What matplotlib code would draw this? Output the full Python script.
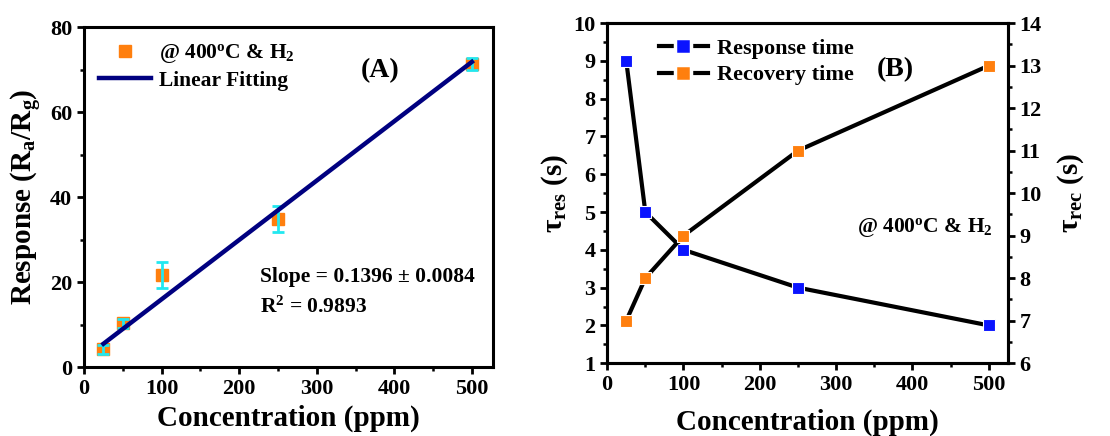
import numpy as np
import matplotlib
matplotlib.use("Agg")
import matplotlib.pyplot as plt
from matplotlib.ticker import MultipleLocator

# Dados - painel A (resposta vs concentracao)
conc = [25, 50, 100, 250, 500]
resposta = [4.2, 10.3, 21.7, 34.8, 71.3]
erro = [1.0, 1.0, 3.0, 3.0, 1.5]
slope = 0.1396
intercept = 2.0

# Dados - painel B (tempos)
t_res = [9, 5, 4, 3, 2]
t_rec = [7, 8, 9, 11, 13]

plt.rcParams["font.family"] = ["Liberation Serif", "DejaVu Serif"]
plt.rcParams["font.weight"] = "bold"
plt.rcParams["mathtext.fontset"] = "custom"
plt.rcParams["mathtext.rm"] = "Liberation Serif:bold"
plt.rcParams["mathtext.it"] = "Liberation Serif:bold"
plt.rcParams["mathtext.bf"] = "Liberation Serif:bold"
plt.rcParams["mathtext.default"] = "rm"

laranja = "#ff7f0e"
azul = "#0a14ff"
ciano = "#22e8f0"

fig = plt.figure(figsize=(11.1, 4.36), dpi=100)
axA = fig.add_axes([0.0757, 0.158, 0.3683, 0.780])
axB = fig.add_axes([0.547, 0.167, 0.361, 0.780])


def estilo(ax):
    for s in ax.spines.values():
        s.set_linewidth(2.2)
    ax.tick_params(which="major", direction="out", length=5, width=2, labelsize=16)
    ax.tick_params(which="minor", direction="out", length=3, width=1.8)
    for lab in ax.get_xticklabels() + ax.get_yticklabels():
        lab.set_fontweight("bold")


# Painel A
xs = np.array([conc[0], conc[-1]])
axA.plot(conc, resposta, "s", color=laranja, markersize=9, linestyle="none",
         label="@ 400$^{o}$C & H$_2$", zorder=2)
axA.errorbar(conc, resposta, yerr=erro, fmt="none", ecolor=ciano, elinewidth=2,
             capsize=4, capthick=2, zorder=3)
axA.plot(xs, intercept + slope * xs, color="#000080", linewidth=3.2,
         label="Linear Fitting", zorder=4)
axA.set_xlim(0, 527)
axA.set_ylim(0, 80)
axA.xaxis.set_major_locator(MultipleLocator(100))
axA.xaxis.set_minor_locator(MultipleLocator(50))
axA.yaxis.set_major_locator(MultipleLocator(20))
axA.yaxis.set_minor_locator(MultipleLocator(10))
estilo(axA)
axA.set_xlabel("Concentration (ppm)", fontsize=21, fontweight="bold", labelpad=4)
axA.set_ylabel("Response (R$_a$/R$_g$)", fontsize=21, fontweight="bold", labelpad=4)
axA.legend(loc="upper left", frameon=False, handlelength=2.4, handletextpad=0.4,
           borderaxespad=0.3, labelspacing=0.25, prop={"weight": "bold", "size": 15.5})
axA.text(0.724, 0.873, "(A)", transform=axA.transAxes, fontsize=20,
         fontweight="bold", ha="center", va="center")
axA.text(0.43, 0.265, "Slope = 0.1396 \u00b1 0.0084", transform=axA.transAxes,
         fontsize=15.5, fontweight="bold", va="center")
axA.text(0.43, 0.176, "R$^2$ = 0.9893", transform=axA.transAxes,
         fontsize=15.5, fontweight="bold", va="center")

# Painel B
axB2 = axB.twinx()
l1, = axB.plot(conc, t_res, "-", color="black", linewidth=3, marker="s",
               markersize=9, markerfacecolor=azul, markeredgecolor="white",
               markeredgewidth=0.8, label="Response time")
l2, = axB2.plot(conc, t_rec, "-", color="black", linewidth=3, marker="s",
                markersize=9, markerfacecolor=laranja, markeredgecolor="white",
                markeredgewidth=0.8, label="Recovery time")
axB.set_xlim(0, 525)
axB.set_ylim(1, 10)
axB2.set_ylim(6, 14)
axB.xaxis.set_major_locator(MultipleLocator(100))
axB.xaxis.set_minor_locator(MultipleLocator(50))
axB.yaxis.set_major_locator(MultipleLocator(1))
axB.yaxis.set_minor_locator(MultipleLocator(0.5))
axB2.yaxis.set_major_locator(MultipleLocator(1))
axB2.yaxis.set_minor_locator(MultipleLocator(0.5))
estilo(axB)
estilo(axB2)
axB.set_xlabel("Concentration (ppm)", fontsize=21, fontweight="bold", labelpad=10)
axB.set_ylabel("\u03c4$_{res}$ (s)", fontsize=21, fontweight="bold", labelpad=2)
axB2.set_ylabel("\u03c4$_{rec}$ (s)", fontsize=21, fontweight="bold", labelpad=10)
leg = axB.legend([l1, l2], ["Response time", "Recovery time"], loc="upper left",
                 bbox_to_anchor=(0.09, 1.0), frameon=False, handlelength=2.2,
                 handletextpad=0.4, borderaxespad=0.3, labelspacing=0.25,
                 prop={"weight": "bold", "size": 16})
for h in leg.legend_handles:
    h.set_markersize(11)
    h.set_markeredgewidth(2.5)
axB.text(0.718, 0.862, "(B)", transform=axB.transAxes, fontsize=20,
         fontweight="bold", ha="center", va="center")
axB.text(0.963, 0.40, "@ 400$^{o}$C & H$_2$", transform=axB.transAxes,
         fontsize=15.5, fontweight="bold", ha="right", va="center")

fig.savefig("out.png", dpi=100)
